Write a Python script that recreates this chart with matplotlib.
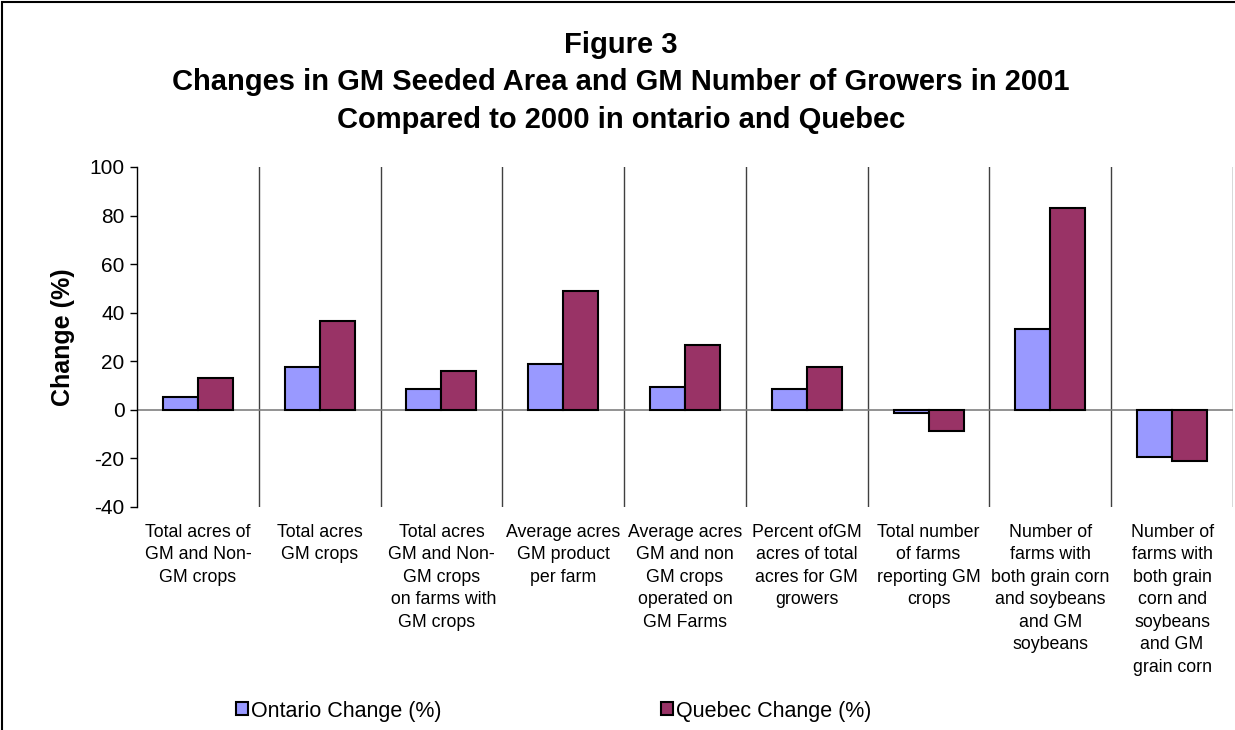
import matplotlib
matplotlib.use("Agg")
import matplotlib.pyplot as plt
import matplotlib.patches as patches
import numpy as np

categories = [
    "Total acres of\nGM and Non-\nGM crops",
    "Total acres\nGM crops",
    "Total acres\nGM and Non-\nGM crops\n on farms with\nGM crops  ",
    "Average acres\nGM product\nper farm",
    "Average acres\nGM and non\nGM crops\noperated on\nGM Farms",
    "Percent ofGM\nacres of total\nacres for GM\ngrowers",
    "Total number\nof farms\nreporting GM\ncrops",
    "Number of\nfarms with\nboth grain corn\nand soybeans\nand GM\nsoybeans",
    "Number of\nfarms with\nboth grain\ncorn and\nsoybeans\nand GM\ngrain corn",
]
ontario = [5.2, 17.6, 8.4, 18.9, 9.6, 8.6, -1.1, 33.2, -19.5]
quebec = [13.0, 36.4, 16.0, 49.1, 26.7, 17.7, -8.6, 83.0, -20.9]
series_names = ["Ontario Change (%)", "Quebec Change (%)"]
colors = ["#9999FF", "#993366"]

plt.rcParams['font.family'] = ['Liberation Sans', 'DejaVu Sans']
plt.rcParams['axes.unicode_minus'] = False

W, H = 1235, 730
fig = plt.figure(figsize=(W / 100, H / 100), dpi=100)
ax = fig.add_axes([137 / W, 1 - 507 / H, (1233 - 137) / W, (507 - 167) / H])

n = len(categories)
x = np.arange(n)
bw = 0.287
bars = []
for i, (vals, c, name) in enumerate(zip([ontario, quebec], colors, series_names)):
    b = ax.bar(x + (i - 0.5) * bw, vals, bw, color=c, edgecolor="black",
               linewidth=1.5, label=name, zorder=3)
    bars.append(b)

ax.set_xlim(-0.5, n - 0.5)
ax.set_ylim(-40, 100)
ax.set_yticks(range(-40, 101, 20))
ax.tick_params(axis='y', direction='out', length=5, width=1, labelsize=15, pad=4)
ax.set_xticks([])

for s in ["top", "right", "bottom"]:
    ax.spines[s].set_visible(False)
ax.spines["left"].set_linewidth(1)

# category separators and zero line
for k in range(1, n + 1):
    ax.axvline(k - 0.5, color="#404040", linewidth=1, zorder=1)
ax.axhline(0, color="#808080", linewidth=1.2, zorder=2)

# category labels under plot
for i, lab in enumerate(categories):
    ax.text(i, -0.05, lab, transform=ax.get_xaxis_transform(), ha="center",
            va="top", fontsize=12.8, linespacing=1.42)

ax.set_ylabel("Change (%)", fontsize=18, fontweight="bold", labelpad=10)

title_lines = ["Figure 3",
               "Changes in GM Seeded Area and GM Number of Growers in 2001",
               "Compared to 2000 in ontario and Quebec"]
for ty, t in zip([45, 82, 120], title_lines):
    fig.text(621 / W, 1 - ty / H, t, ha="center", va="center",
             fontsize=21, fontweight="bold")

fig.legend(handles=bars, labels=series_names, loc="center left",
           bbox_to_anchor=(236 / W, 1 - 711 / H), ncol=2, frameon=False,
           fontsize=15.5, handlelength=0.55, handleheight=0.55,
           handletextpad=0.15, columnspacing=10.2, borderpad=0,
           borderaxespad=0)

# outer chart border
fig.patches.append(patches.Rectangle((2 / W, -0.1), 1.2, 1.1 - 2 / H,
                                     transform=fig.transFigure, fill=False,
                                     edgecolor="black", linewidth=1.5))

fig.savefig("out.png", dpi=100)
